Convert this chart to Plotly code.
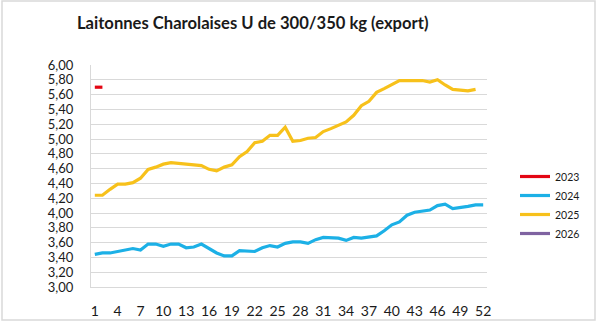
import plotly.graph_objects as go

weeks = list(range(1, 53))
x_ticks = list(range(1, 53, 3))
y_ticks = [3.0 + 0.2 * i for i in range(16)]

y2023 = [5.70, 5.70]
y2024 = [3.44, 3.46, 3.46, 3.48, 3.49, 3.52, 3.50, 3.58, 3.58, 3.55,
         3.58, 3.58, 3.53, 3.54, 3.58, 3.52, 3.46, 3.42, 3.42, 3.49,
         3.49, 3.48, 3.53, 3.56, 3.54, 3.59, 3.61, 3.61, 3.59, 3.64,
         3.67, 3.67, 3.66, 3.63, 3.67, 3.66, 3.67, 3.69, 3.76, 3.84,
         3.88, 3.97, 4.01, 4.02, 4.04, 4.10, 4.12, 4.06, 4.07, 4.09,
         4.11, 4.11]
y2025 = [4.24, 4.24, 4.32, 4.39, 4.39, 4.41, 4.47, 4.59, 4.62, 4.66,
         4.68, 4.67, 4.67, 4.66, 4.64, 4.59, 4.57, 4.62, 4.65, 4.76,
         4.83, 4.95, 4.97, 5.05, 5.05, 5.16, 4.97, 4.98, 5.01, 5.02,
         5.10, 5.14, 5.18, 5.23, 5.32, 5.45, 5.51, 5.63, 5.68, 5.74,
         5.79, 5.79, 5.79, 5.79, 5.77, 5.80, 5.73, 5.67, 5.66, 5.65,
         5.67]
y2026 = []

series = [
    ("2023", y2023, "#e30613"),
    ("2024", y2024, "#1cb0e6"),
    ("2025", y2025, "#f7c11b"),
    ("2026", y2026, "#7f63a1"),
]

fig = go.Figure()
for name, vals, color in series:
    fig.add_trace(go.Scatter(
        x=weeks[:len(vals)] if vals else [None],
        y=vals if vals else [None],
        mode="lines", name=name,
        line=dict(color=color, width=3.2),
    ))

font = "Lato, 'Open Sans', sans-serif"

fig.update_layout(
    width=600, height=323,
    margin=dict(l=91, r=113, t=65, b=36),
    paper_bgcolor="white", plot_bgcolor="white",
    separators=", ",
    font=dict(family=font, color="#1a1a1a"),
    title=dict(
        text="<b>Laitonnes Charolaises U de 300/350 kg (export)</b>",
        font=dict(family=font, size=16.6, color="#1a1a1a"),
        xref="container", yref="container",
        x=77 / 600, xanchor="left",
        y=1 - 23 / 323, yanchor="middle",
    ),
    xaxis=dict(
        range=[0.5, 52.5], tickmode="array", tickvals=x_ticks,
        showgrid=False, zeroline=False, automargin=False,
        showline=True, linecolor="#d9d9d9", linewidth=1,
        tickfont=dict(size=14, family=font, color="#1a1a1a"),
        ticks="", ticklabelstandoff=11,
    ),
    yaxis=dict(
        range=[3.0, 6.0], tickmode="array", tickvals=y_ticks,
        tickformat=".2f", automargin=False,
        showgrid=True, gridcolor="#d9d9d9", gridwidth=1,
        zeroline=False,
        showline=True, linecolor="#d9d9d9", linewidth=1,
        tickfont=dict(size=13, family=font, color="#1a1a1a"),
        ticks="", ticklabelstandoff=14,
    ),
    legend=dict(
        x=(515 - 91) / 396, xanchor="left",
        y=(287 - 162) / 222, yanchor="top",
        font=dict(size=10.5, family=font, color="#1a1a1a"),
        bgcolor="rgba(0,0,0,0)",
        tracegroupgap=0,
    ),
    showlegend=True,
    shapes=[dict(
        type="rect", xref="paper", yref="paper",
        x0=(2 - 91) / 396, x1=(595 - 91) / 396,
        y0=(287 - 320) / 222, y1=(287 - 1) / 222,
        line=dict(color="#d9d9d9", width=1.5),
        fillcolor="rgba(0,0,0,0)", layer="below",
    )],
)

fig.write_html("out.html")
